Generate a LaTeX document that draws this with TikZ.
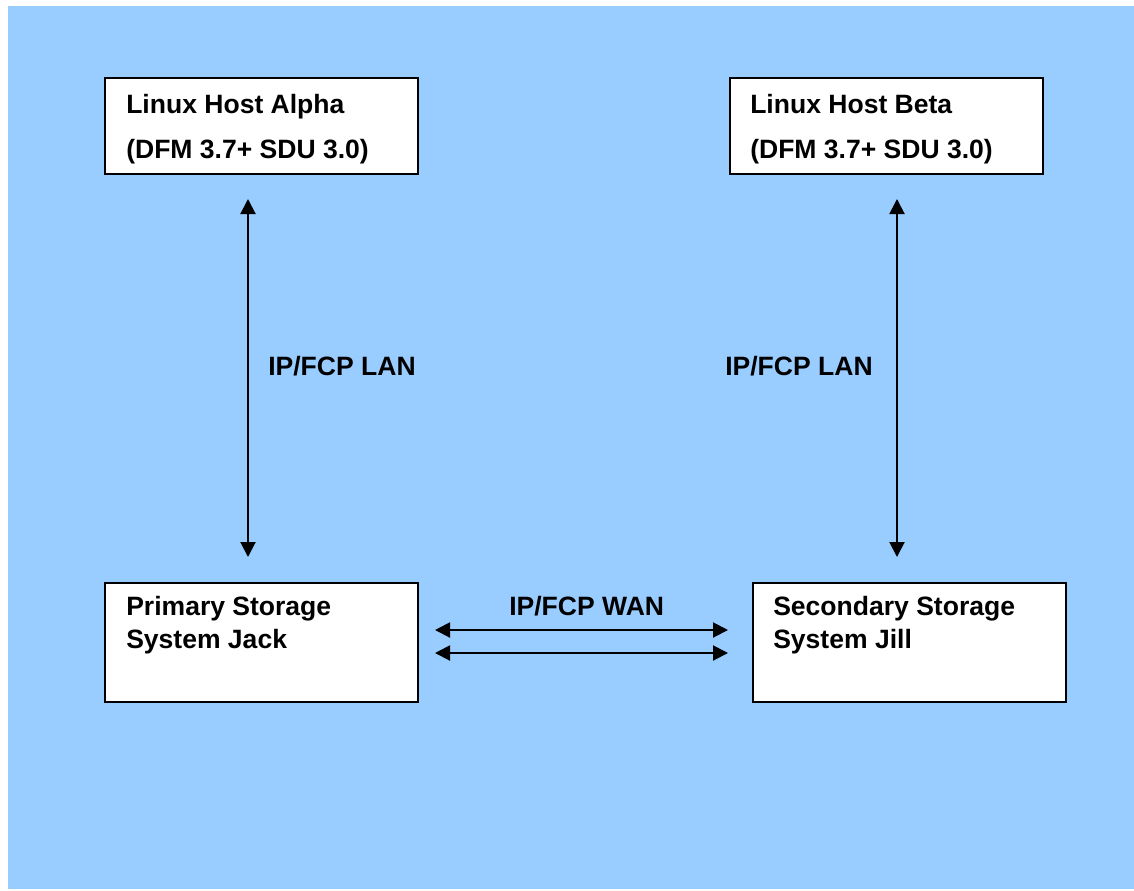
\documentclass[tikz,border=0pt]{standalone}
\usepackage{fontspec}
\setmainfont{Liberation Sans}
\usetikzlibrary{arrows.meta,calc}
\definecolor{bgblue}{HTML}{99CCFF}
\begin{document}
\begin{tikzpicture}[x=0.75pt,y=-0.75pt,
  box/.style={draw=black,line width=1.5pt,fill=white,rectangle,inner sep=0pt,
    minimum width=234.75pt,minimum height=#1,anchor=north west},
  lbl/.style={inner sep=0pt,anchor=base west,font=\fontsize{19.9}{24}\selectfont\bfseries},
  arr/.style={line width=1.5pt,{Triangle[length=11.25pt,width=11.25pt]}-{Triangle[length=11.25pt,width=11.25pt]}}]
\useasboundingbox (0,0) rectangle (1134,890);
\fill[bgblue] (8,6) rectangle (1134,889);
% boxes
\node[box=72pt] (alpha) at (104,77) {};
\node[box=72pt] (beta) at (729,77) {};
\node[box=89.25pt] (prim) at (104,582) {};
\node[box=89.25pt] (sec) at (752,582) {};
% texts
\node[lbl] (a1) at (126,113) {Linux Host Alpha};
\node[lbl] (a2) at (126,158) {(DFM 3.7+ SDU 3.0)};
\node[lbl] (b1) at (750,113) {Linux Host Beta};
\node[lbl] (b2) at (750,158) {(DFM 3.7+ SDU 3.0)};
\node[lbl] (p1) at (126,615) {Primary Storage};
\node[lbl] (p2) at (126,648) {System Jack};
\node[lbl] (s1) at (773,615) {Secondary Storage};
\node[lbl] (s2) at (773,648) {System Jill};
\node[lbl] (lanl) at (268,375) {IP/FCP LAN};
\node[lbl] (lanr) at (725,375) {IP/FCP LAN};
\node[lbl] (wan) at (509,615) {IP/FCP WAN};
% connectors
\coordinate (c1) at ($(alpha.south west)+(144,24)$);
\coordinate (c2) at ($(prim.north west)+(144,-25)$);
\draw[arr] (c1) -- (c2);
\coordinate (c3) at ($(beta.south west)+(168,24)$);
\coordinate (c4) at ($(sec.north west)+(145,-25)$);
\draw[arr] (c3) -- (c4);
\coordinate (w1) at ($(prim.north east)+(16,48)$);
\coordinate (w2) at ($(sec.north west)+(-24,48)$);
\draw[arr] (w1) -- (w2);
\coordinate (w3) at ($(prim.north east)+(16,71)$);
\coordinate (w4) at ($(sec.north west)+(-24,71)$);
\draw[arr] (w3) -- (w4);
\end{tikzpicture}
\end{document}
